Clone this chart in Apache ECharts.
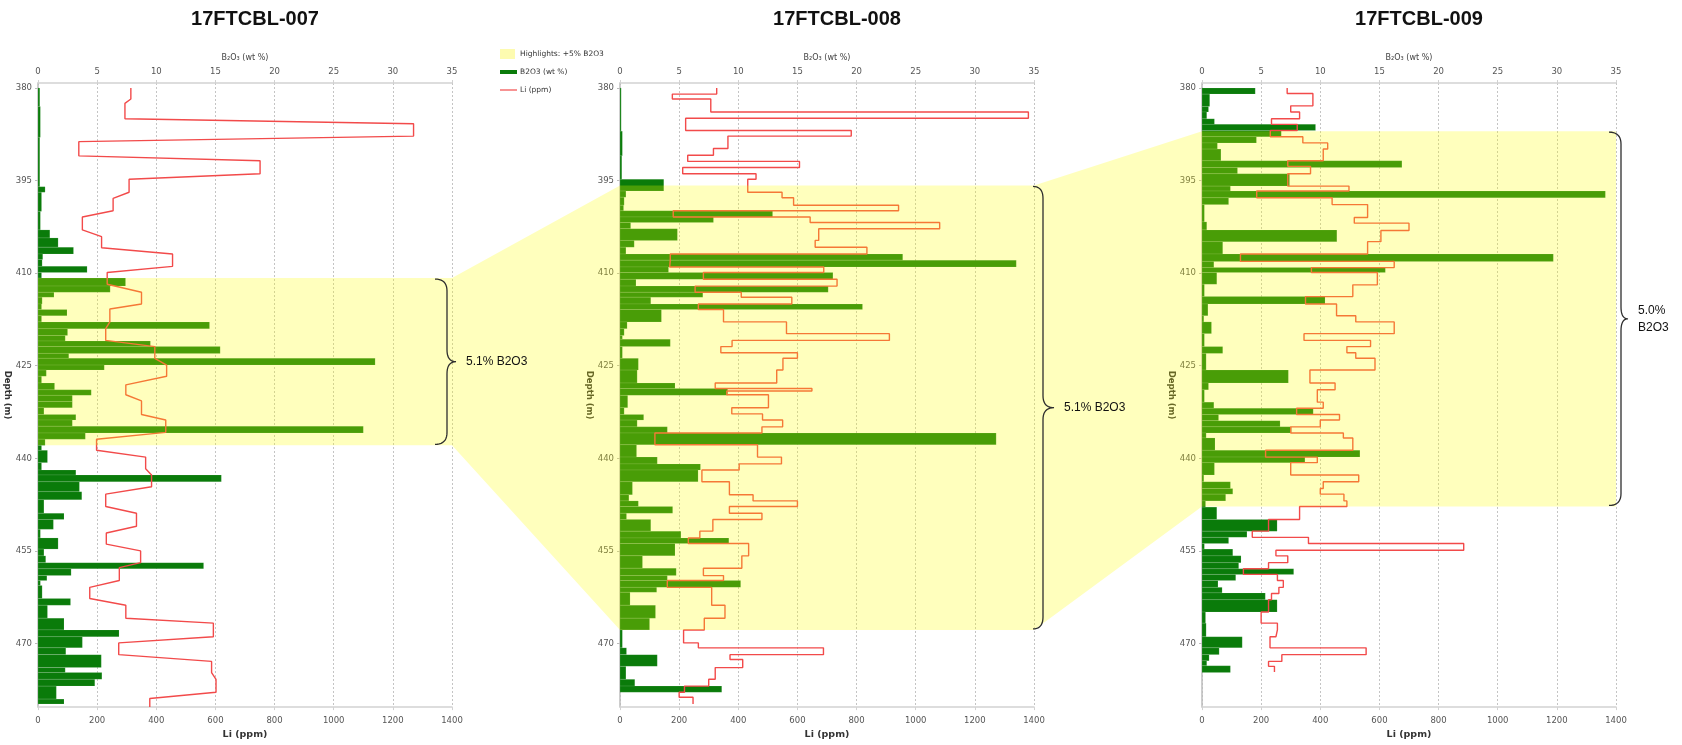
<!DOCTYPE html>
<html>
<head>
<meta charset="utf-8">
<script src="https://cdn.jsdelivr.net/npm/echarts@6/dist/echarts.min.js"></script>
<style>
  html, body { margin: 0; padding: 0; background: #fff; }
  #chart { width: 1682px; height: 745px; }
</style>
</head>
<body>
<div id="chart"></div>
<script>
// ---- Well names ----
const wells = ['17FTCBL-007', '17FTCBL-008', '17FTCBL-009'];

// ---- Depth ticks (m) ----
const depthTicks = [380, 395, 410, 425, 440, 455, 470];

// ---- 17FTCBL-007: B2O3 interval tops (last entry = base of last interval) and wt % ----
const b2o3Depth007 = [380.0,383.0,388.0,396.0,396.9,400.0,403.0,404.3,405.8,406.9,407.8,408.9,409.9,410.8,412.1,413.1,413.9,415.0,415.9,416.9,417.9,419.0,420.1,421.0,421.9,423.0,423.8,424.9,425.7,426.7,427.8,428.9,429.8,430.8,431.8,432.9,433.8,434.8,435.9,436.9,437.9,438.7,440.7,441.9,442.7,443.8,445.4,446.7,448.9,449.9,451.5,452.9,454.7,455.8,456.9,457.9,459.0,459.8,460.6,462.7,463.8,465.9,467.8,468.9,470.7,471.8,473.9,474.7,475.8,476.9,479.0,479.8];
const b2o3_007 = [0.15,0.2,0.15,0.6,0.3,0.2,1.0,1.7,3.0,0.4,0.35,4.15,0.3,7.4,6.1,1.35,0.35,0.3,2.45,0.3,14.5,2.5,2.3,9.5,15.4,2.6,28.5,5.6,0.7,0.3,1.4,4.5,2.9,2.9,0.5,3.2,2.9,27.5,4.0,0.6,0.3,0.8,0.3,3.2,15.5,3.5,3.7,0.5,2.2,1.3,0.2,1.7,0.5,0.65,14.0,2.8,0.75,0.2,0.35,2.75,0.8,2.2,6.85,3.75,2.35,5.35,2.3,5.4,4.8,1.55,2.2];

// ---- 17FTCBL-007: Li samples (top, base, ppm) ----
const liTop007  = [380.0,382.5,385.8,388.7,391.8,394.8,397.9,400.9,404.1,406.9,409.9,413.1,415.8,419.0,421.9,424.9,428.1,430.7,433.8,436.9,439.8,442.7,445.8,448.9,452.1,455.0,457.7,460.9,463.8,466.7,469.9,472.9,475.8,478.9];
const liBase007 = [381.8,385.0,387.8,391.0,393.9,396.9,399.9,403.0,405.9,408.9,411.8,415.0,417.9,420.9,423.8,426.7,429.7,432.9,435.8,438.7,441.7,444.6,447.8,451.0,453.9,456.9,459.8,462.7,465.9,468.9,471.8,474.7,477.9,480.3];
const li007     = [314,294,1270,138,751,308,254,150,215,455,234,350,243,229,395,435,297,350,432,198,364,384,229,333,231,347,275,175,297,593,273,587,602,378];

// ---- 17FTCBL-008: B2O3 ----
const b2o3Depth008 = [380.0,387.0,391.0,394.8,396.7,397.7,399.0,399.9,400.9,401.8,402.8,404.7,405.8,406.9,407.9,409.0,409.9,411.0,412.1,413.1,413.9,415.0,415.9,417.9,419.0,420.1,420.7,421.9,423.8,425.7,427.8,428.7,429.8,431.8,432.9,433.8,434.9,435.9,437.8,439.8,440.9,441.9,443.8,445.9,446.9,447.8,448.9,449.9,451.8,452.9,453.8,455.8,457.8,459.0,459.8,460.9,461.7,463.8,465.9,467.8,470.7,471.8,473.7,475.8,476.9,477.9];
const b2o3_008 = [0.1,0.2,0.15,3.7,0.5,0.35,0.3,12.9,7.9,0.9,4.85,1.2,0.5,23.9,33.5,4.1,18.0,1.35,17.6,7.0,2.6,20.5,3.5,0.6,0.35,0.2,4.25,0.2,1.55,1.45,4.65,9.1,0.65,0.35,2.0,1.45,4.0,31.8,1.4,3.15,6.8,6.6,1.05,0.75,1.55,4.45,0.55,2.6,5.15,9.2,4.65,1.9,4.75,4.0,10.2,3.1,0.85,3.0,2.5,0.2,0.55,3.15,0.5,1.25,8.6];

// ---- 17FTCBL-008: Li (interval tops, last entry = base) ----
const liDepth008 = [380.0,381.0,381.8,383.9,384.9,386.9,387.8,389.8,390.9,391.9,392.9,393.9,394.8,396.9,397.8,399.0,399.9,400.9,401.8,402.8,404.7,405.8,406.9,407.9,409.0,409.9,411.0,412.1,413.1,413.9,415.0,415.9,417.9,419.8,420.9,421.9,422.9,423.8,425.7,427.8,428.7,429.1,429.7,431.8,432.8,433.8,434.9,435.9,437.8,439.8,440.9,441.9,443.8,445.9,446.9,447.8,448.9,449.9,451.8,452.9,453.8,455.8,457.8,459.0,459.8,460.9,463.8,465.9,467.8,469.9,470.7,471.8,472.6,473.9,475.8,476.9,477.9,478.7,479.8];
const li008 = [327,177,307,1381,222,782,365,316,229,607,212,460,432,548,587,942,180,643,1081,672,660,835,170,168,689,282,734,254,410,581,265,350,563,911,379,341,600,551,530,322,649,361,502,378,482,550,480,118,465,546,403,277,370,450,600,370,480,314,270,231,435,412,282,350,160,310,355,285,215,265,688,372,415,322,300,218,200,247];

// ---- 17FTCBL-009: B2O3 ----
const b2o3Depth009 = [380.0,381.0,383.0,383.9,385.0,385.9,386.9,387.9,388.9,389.9,391.8,392.9,393.9,395.9,396.7,397.8,398.9,401.7,403.0,404.9,406.9,408.1,409.1,409.9,411.8,413.8,415.0,416.9,417.9,419.8,421.9,423.0,425.7,427.8,428.9,430.9,431.9,432.9,433.9,434.9,435.9,436.7,438.7,439.8,440.7,442.7,443.8,444.9,445.8,446.9,447.9,449.9,451.8,452.8,453.8,454.7,455.8,456.9,457.9,458.8,459.8,460.9,461.8,462.9,464.9,466.7,468.9,470.7,471.8,472.8,473.6,474.7];
const b2o3_009 = [4.5,0.65,0.55,0.4,1.05,9.6,6.7,4.6,1.3,1.6,16.9,3.0,7.4,2.4,34.1,2.25,0.2,0.4,11.4,1.75,29.7,1.0,15.5,1.25,0.2,10.4,0.5,0.15,0.8,0.2,1.75,0.35,7.3,0.55,0.2,1.0,9.4,1.4,6.6,7.55,0.35,1.1,13.35,8.7,1.05,0.15,2.4,2.6,2.0,0.3,1.25,6.35,3.8,2.25,0.2,2.6,3.3,3.1,7.75,2.85,1.35,1.7,5.35,6.35,0.3,0.35,3.4,1.45,0.6,0.4,2.4];

// ---- 17FTCBL-009: Li ----
const liDepth009 = [380.0,380.9,382.9,383.9,385.0,385.9,386.9,387.9,388.9,389.9,391.8,392.7,393.9,395.9,396.7,397.8,398.9,401.0,401.9,403.1,404.9,406.9,408.1,409.1,409.9,411.9,413.8,415.0,416.9,417.9,419.8,420.9,421.9,422.9,423.8,425.7,427.8,428.9,430.9,431.9,432.9,433.8,434.9,435.9,436.7,438.7,439.8,440.7,442.7,443.8,444.9,445.8,446.9,447.8,449.9,451.8,452.8,453.8,454.9,455.8,456.9,457.9,458.8,459.8,460.9,461.9,462.9,464.9,466.7,467.8,468.9,470.7,471.8,472.9,473.7,474.6];
const li009 = [288,375,300,330,235,322,231,341,425,410,290,367,290,497,185,440,560,515,700,605,560,130,650,370,593,510,350,455,520,650,345,570,490,520,585,365,450,390,410,320,465,400,300,478,510,215,390,300,530,410,400,480,490,330,225,170,360,885,250,290,225,140,255,275,260,235,225,200,255,250,230,555,270,225,245];

// ---- High-B2O3 zones (depth, m) and their average grades ----
const highlightTop  = [410.8, 395.8, 387.0];
const highlightBase = [437.9, 467.8, 447.8];
const zoneLabels = ['5.1% B2O3', '5.1% B2O3', '5.0%\nB2O3'];

// ---- Layout ----
const gridLeft = [38, 620, 1202];
const gridW = 414, gridTop = 83, gridH = 632;
// brace x offsets (px) relative to the 35 wt% line: start, spine, tip
const braceOffsets = [[-17, -5, 4], [-1, 9, 20], [-7, 5, 12]];

const GREEN = '#0a7b0a';
const RED = '#f24a4a';
const TICK_FONT = 'DejaVu Sans';
const SANS = 'Liberation Sans, Arial, sans-serif';

// Build per-well series inputs
const barSets = [
  [b2o3Depth007, b2o3_007],
  [b2o3Depth008, b2o3_008],
  [b2o3Depth009, b2o3_009]
].map(([d, v]) => v.map((val, i) => [val, d[i], d[i + 1]]));

function stepPoints(depths, vals) {
  const pts = [];
  vals.forEach((v, i) => { pts.push([v, depths[i]]); pts.push([v, depths[i + 1]]); });
  return pts;
}
const liSets = [
  li007.flatMap((v, i) => [[v, liTop007[i]], [v, liBase007[i]]]),
  stepPoints(liDepth008, li008),
  stepPoints(liDepth009, li009)
];

const chart = echarts.init(document.getElementById('chart'), null, { renderer: 'canvas' });

const grids = [], xAxes = [], yAxes = [], series = [];
wells.forEach((w, i) => {
  grids.push({ left: gridLeft[i], top: gridTop, width: gridW, height: gridH });
  xAxes.push({
    gridIndex: i, type: 'value', position: 'top', min: 0, max: 35, interval: 5,
    name: 'B\u2082O\u2083 (wt %)', nameLocation: 'middle', nameGap: 21,
    nameTextStyle: { fontSize: 8, color: '#444', fontFamily: TICK_FONT },
    axisLine: { show: true, lineStyle: { color: '#d2d2d2', width: 1.5 } },
    axisTick: { show: true, length: 3, lineStyle: { color: '#d2d2d2' } },
    axisLabel: { fontSize: 8.5, color: '#555', margin: 7, fontFamily: TICK_FONT },
    splitLine: { show: true, lineStyle: { color: '#c4c4c4', type: [2, 2], width: 1 } }
  });
  xAxes.push({
    gridIndex: i, type: 'value', position: 'bottom', min: 0, max: 1400, interval: 200,
    name: 'Li (ppm)', nameLocation: 'middle', nameGap: 17,
    nameTextStyle: { fontSize: 9.5, color: '#333', fontFamily: TICK_FONT, fontWeight: 'bold' },
    axisLine: { show: true, lineStyle: { color: '#d2d2d2', width: 1.5 } },
    axisTick: { show: true, length: 3, lineStyle: { color: '#d2d2d2' } },
    axisLabel: { fontSize: 8.5, color: '#555', margin: 9, fontFamily: TICK_FONT, formatter: v => String(v) },
    splitLine: { show: false }
  });
  yAxes.push({
    gridIndex: i, type: 'value', inverse: true, min: 379.2, max: 480.3,
    name: 'Depth (m)', nameLocation: 'middle', nameGap: 18, nameRotate: -90,
    nameTextStyle: { fontSize: 8.5, color: '#333', fontFamily: TICK_FONT, fontWeight: 'bold' },
    axisLine: { show: true, lineStyle: { color: '#bcbcbc', width: 1.5 } },
    axisTick: { show: true, length: 3, customValues: depthTicks, lineStyle: { color: '#bcbcbc' } },
    axisLabel: { customValues: depthTicks, fontSize: 8.5, color: '#555', margin: 6, fontFamily: TICK_FONT },
    splitLine: { show: false }
  });
  series.push({
    type: 'custom', name: 'B2O3 (wt %)', xAxisIndex: 2 * i, yAxisIndex: i,
    encode: { x: 0, y: [1, 2] },
    data: barSets[i],
    renderItem: function (params, api) {
      const v = api.value(0), t = api.value(1), b = api.value(2);
      const p0 = api.coord([0, t]);
      const p1 = api.coord([v, b]);
      return {
        type: 'rect',
        shape: { x: p0[0], y: p0[1], width: p1[0] - p0[0], height: p1[1] - p0[1] },
        style: { fill: GREEN, stroke: 'rgba(255,255,255,0.22)', lineWidth: 0.5 }
      };
    },
    z: 2, animation: false
  });
  series.push({
    type: 'line', name: 'Li (ppm)', xAxisIndex: 2 * i + 1, yAxisIndex: i,
    data: liSets[i], showSymbol: false, symbol: 'none',
    lineStyle: { color: RED, width: 1.4 }, z: 3, animation: false
  });
});

chart.setOption({
  animation: false,
  backgroundColor: '#ffffff',
  grid: grids, xAxis: xAxes, yAxis: yAxes, series: series
});

// ---- Overlay graphics: highlight band, braces, labels, titles, legend ----
function px(i, x, d) { return chart.convertToPixel({ xAxisIndex: 2 * i, yAxisIndex: i }, [x, d]); }

const L = [], R = [], T = [], B = [];
wells.forEach((w, i) => {
  const a = px(i, 0, highlightTop[i]);
  const b = px(i, 35, highlightBase[i]);
  L.push(a[0]); R.push(b[0]); T.push(a[1]); B.push(b[1]);
});

const bandPts = [
  [L[0], T[0]], [R[0], T[0]], [L[1], T[1]], [R[1], T[1]], [L[2], T[2]], [R[2], T[2]],
  [R[2], B[2]], [L[2], B[2]], [R[1], B[1]], [L[1], B[1]], [R[0], B[0]], [L[0], B[0]]
];

const graphics = [{
  type: 'polygon', z: 100, silent: true,
  shape: { points: bandPts },
  style: { fill: 'rgba(255,255,0,0.26)' }
}];

// quadratic curve sampled into points
function quad(p0, c, p1, n) {
  const out = [];
  for (let k = 1; k <= n; k++) {
    const s = k / n, u = 1 - s;
    out.push([u * u * p0[0] + 2 * u * s * c[0] + s * s * p1[0], u * u * p0[1] + 2 * u * s * c[1] + s * s * p1[1]]);
  }
  return out;
}

wells.forEach((w, i) => {
  const [o0, o1, o2] = braceOffsets[i];
  const x0 = R[i] + o0, x1 = R[i] + o1, x2 = R[i] + o2;
  const t = T[i] + 1, b = B[i] - 1, m = (t + b) / 2, r = 12;
  let pts = [[x0, t]];
  pts = pts.concat(quad([x0, t], [x1, t], [x1, t + r], 10));
  pts.push([x1, m - r]);
  pts = pts.concat(quad([x1, m - r], [x1, m], [x2, m], 10));
  pts = pts.concat(quad([x2, m], [x1, m], [x1, m + r], 10));
  pts.push([x1, b - r]);
  pts = pts.concat(quad([x1, b - r], [x1, b], [x0, b], 10));
  graphics.push({
    type: 'polyline', z: 110, silent: true,
    shape: { points: pts },
    style: { fill: null, stroke: '#2e2e2e', lineWidth: 1.3 }
  });
  graphics.push({
    type: 'text', z: 110, x: x2 + 10, y: m,
    style: { text: zoneLabels[i], font: '12px ' + SANS, fill: '#111', verticalAlign: 'middle', align: 'left', lineHeight: 17 }
  });
  graphics.push({
    type: 'text', z: 110, x: gridLeft[i] + gridW / 2 + 10, y: 19,
    style: { text: w, font: 'bold 20px ' + SANS, fill: '#111', align: 'center', verticalAlign: 'middle' }
  });
});

// legend
const lgX = 500;
graphics.push(
  { type: 'rect', z: 110, shape: { x: lgX, y: 49, width: 15, height: 10 }, style: { fill: '#fdfbb0' } },
  { type: 'text', z: 110, x: lgX + 20, y: 54, style: { text: 'Highlights: +5% B2O3', font: '7.5px ' + TICK_FONT, fill: '#333', verticalAlign: 'middle' } },
  { type: 'rect', z: 110, shape: { x: lgX, y: 70, width: 17, height: 4 }, style: { fill: GREEN } },
  { type: 'text', z: 110, x: lgX + 20, y: 72, style: { text: 'B2O3 (wt %)', font: '7.5px ' + TICK_FONT, fill: '#333', verticalAlign: 'middle' } },
  { type: 'line', z: 110, shape: { x1: lgX, y1: 90, x2: lgX + 17, y2: 90 }, style: { stroke: RED, lineWidth: 1.2 } },
  { type: 'text', z: 110, x: lgX + 20, y: 90, style: { text: 'Li (ppm)', font: '7.5px ' + TICK_FONT, fill: '#333', verticalAlign: 'middle' } }
);

chart.setOption({ graphic: graphics });
</script>
</body>
</html>
